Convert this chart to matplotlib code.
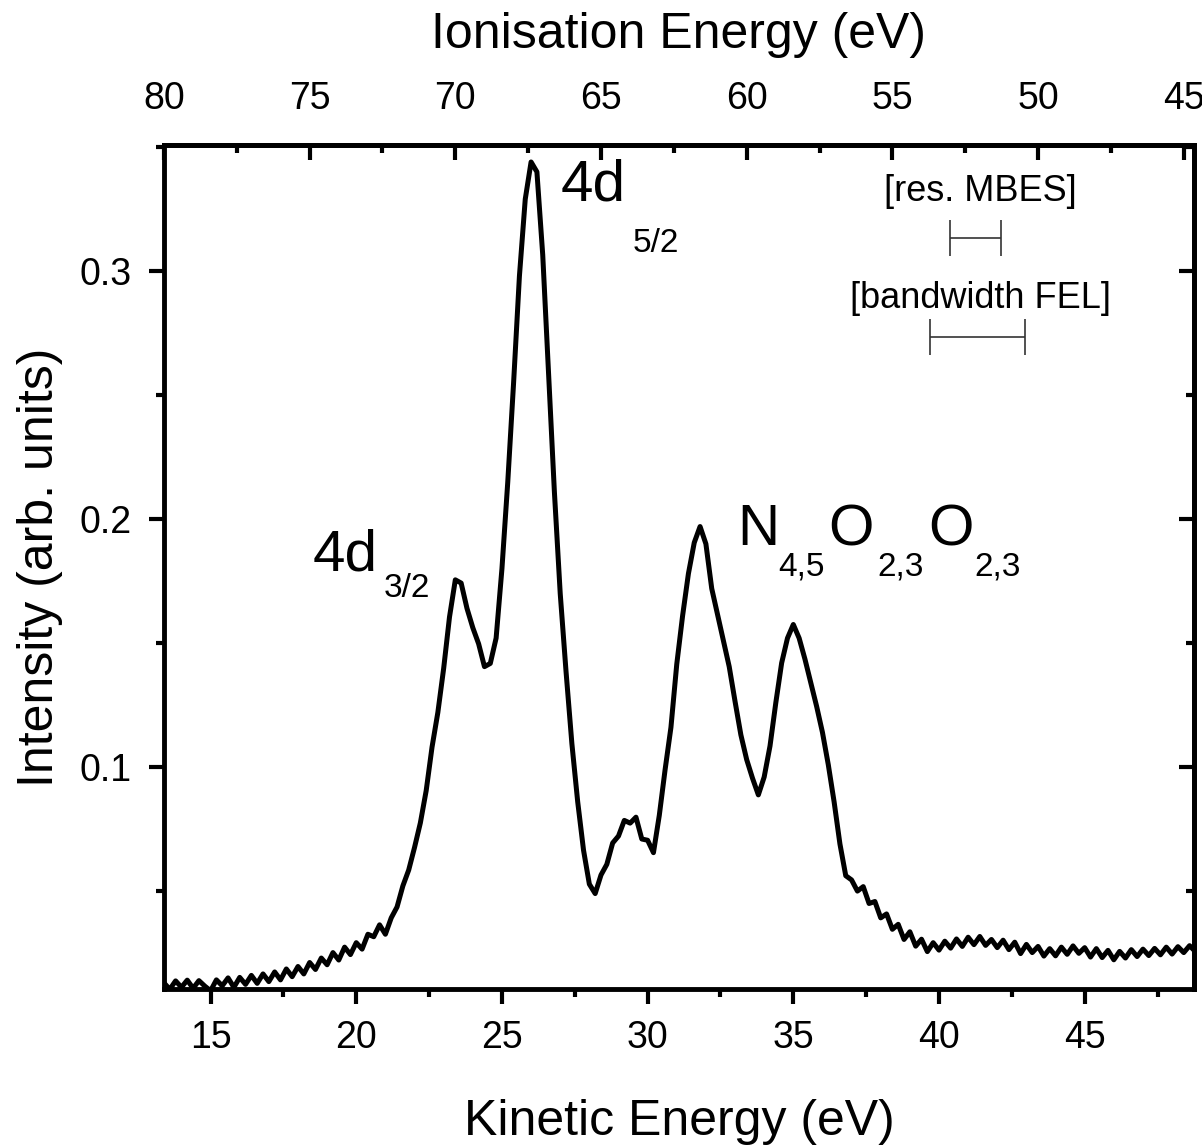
import numpy as np
import matplotlib
matplotlib.use("Agg")
import matplotlib.pyplot as plt
from matplotlib.ticker import MultipleLocator

plt.rcParams['font.family'] = ['Liberation Sans', 'DejaVu Sans']

# photon energy: ionisation energy = hv - kinetic energy
hv = 93.40

# spectrum, sampled every 0.2 eV starting at 13.4 eV kinetic energy
ke_start = 13.4
ke_step = 0.2
intensity = [
    # 13.4 - 21.0
    0.0130, 0.0104, 0.0138, 0.0112, 0.0141, 0.0108, 0.0139, 0.0117, 0.0098, 0.0142,
    0.0118, 0.0150, 0.0112, 0.0152, 0.0124, 0.0160, 0.0128, 0.0166, 0.0135, 0.0174,
    0.0142, 0.0186, 0.0155, 0.0196, 0.0166, 0.0212, 0.0184, 0.0230, 0.0203, 0.0252,
    0.0222, 0.0274, 0.0244, 0.0292, 0.0266, 0.0326, 0.0316, 0.0364, 0.0326,
    # 21.2 - 28.0
    0.0392, 0.0436, 0.0521, 0.0585, 0.0676, 0.0775, 0.0905, 0.1080, 0.1220, 0.1398,
    0.1605, 0.1755, 0.1742, 0.1640, 0.1562, 0.1497, 0.1405, 0.1418, 0.1520, 0.1800,
    0.2150, 0.2550, 0.2980, 0.3290, 0.3440, 0.3400, 0.3065, 0.2585, 0.2110, 0.1700,
    0.1385, 0.1095, 0.0860, 0.0665, 0.0528,
    # 28.2 - 30.4
    0.0490, 0.0565, 0.0608, 0.0694, 0.0722, 0.0785, 0.0774, 0.0798, 0.0710, 0.0705,
    0.0655, 0.0805,
    # 30.6 - 36.6
    0.0990, 0.1160, 0.1415, 0.1610, 0.1780, 0.1905, 0.1970, 0.1900, 0.1720, 0.1615,
    0.1510, 0.1405, 0.1265, 0.1130, 0.1030, 0.0955, 0.0888, 0.0960, 0.1085, 0.1260,
    0.1420, 0.1520, 0.1575, 0.1520, 0.1435, 0.1340, 0.1245, 0.1140, 0.1010, 0.0860,
    0.0690,
    # 36.8 - 48.8
    0.0562, 0.0545, 0.0500, 0.0518, 0.0450, 0.0458, 0.0392, 0.0408, 0.0346, 0.0366,
    0.0305, 0.0336, 0.0278, 0.0306, 0.0256, 0.0292, 0.0262, 0.0298, 0.0270, 0.0307,
    0.0277, 0.0314, 0.0284, 0.0317, 0.0281, 0.0305, 0.0272, 0.0302, 0.0264, 0.0294,
    0.0248, 0.0285, 0.0252, 0.0277, 0.0238, 0.0268, 0.0239, 0.0274, 0.0245, 0.0279,
    0.0249, 0.0272, 0.0234, 0.0268, 0.0232, 0.0261, 0.0223, 0.0257, 0.0230, 0.0264,
    0.0236, 0.0266, 0.0240, 0.0269, 0.0243, 0.0274, 0.0246, 0.0276, 0.0252, 0.0280,
    0.0256,
]
ke = ke_start + ke_step * np.arange(len(intensity))

# resolution bars (kinetic energy span) and their heights
res_mbes = (40.37, 42.12)
res_mbes_y = 0.3134
fel_bw = (39.70, 42.96)
fel_bw_y = 0.2735

fig = plt.figure(figsize=(12.02, 11.47), dpi=100)
ax = fig.add_axes([0.1364, 0.1377, 0.8569, 0.7358])

ax.plot(ke, intensity, color='black', lw=3.6, solid_joinstyle='round')

ax.set_xlim(13.40, 48.75)
ax.set_ylim(0.0105, 0.3508)

for sp in ax.spines.values():
    sp.set_linewidth(3.5)

ax.xaxis.set_major_locator(MultipleLocator(5))
ax.xaxis.set_minor_locator(MultipleLocator(2.5))
ax.yaxis.set_major_locator(MultipleLocator(0.1))
ax.yaxis.set_minor_locator(MultipleLocator(0.05))
ax.tick_params(which='major', direction='out', length=11, width=3,
               labelsize=27, pad=11)
ax.tick_params(which='minor', direction='out', length=6, width=3)
ax.tick_params(axis='y', which='major', pad=12)
ax.yaxis.set_major_formatter(plt.FuncFormatter(lambda v, p: f'{v:.1f}'))

# ionisation energy on top
top = ax.secondary_xaxis('top', functions=(lambda k: hv - k, lambda e: hv - e))
top.xaxis.set_major_locator(MultipleLocator(5))
top.xaxis.set_minor_locator(MultipleLocator(2.5))
top.tick_params(which='major', direction='in', length=11, width=3,
                labelsize=27, pad=20)
top.tick_params(which='minor', direction='in', length=6, width=3)
top.spines['top'].set_linewidth(3.5)
top.set_xlabel('Ionisation Energy (eV)', fontsize=36, labelpad=24)

right = ax.secondary_yaxis('right')
right.yaxis.set_major_locator(MultipleLocator(0.1))
right.yaxis.set_minor_locator(MultipleLocator(0.05))
right.tick_params(which='major', direction='in', length=11, width=3, labelright=False)
right.tick_params(which='minor', direction='in', length=6, width=3)
right.spines['right'].set_linewidth(3.5)

ax.set_xlabel('Kinetic Energy (eV)', fontsize=36, labelpad=31)
ax.set_ylabel('Intensity (arb. units)', fontsize=36, labelpad=12)

# peak labels
ax.text(18.50, 0.1794, '4d', fontsize=42, va='baseline')
ax.text(20.94, 0.1685, '3/2', fontsize=24, va='baseline')
ax.text(27.01, 0.3286, '4d', fontsize=42, va='baseline')
ax.text(29.48, 0.3077, '5/2', fontsize=24, va='baseline')
ax.text(33.07, 0.1895, 'N', fontsize=42, va='baseline')
ax.text(34.48, 0.1774, '4,5', fontsize=24, va='baseline')
ax.text(36.20, 0.1895, 'O', fontsize=42, va='baseline')
ax.text(37.88, 0.1774, '2,3', fontsize=24, va='baseline')
ax.text(39.62, 0.1895, 'O', fontsize=42, va='baseline')
ax.text(41.23, 0.1774, '2,3', fontsize=24, va='baseline')

# resolution / bandwidth indicators
ax.text(41.41, 0.3319, '[res. MBES]', fontsize=26, ha='center', va='center')
ax.errorbar([(res_mbes[0] + res_mbes[1]) / 2], [res_mbes_y],
            xerr=[(res_mbes[1] - res_mbes[0]) / 2], fmt='none',
            ecolor='#333333', elinewidth=1.2, capsize=13, capthick=1.2)
ax.text(41.44, 0.2891, '[bandwidth FEL]', fontsize=26, ha='center', va='center')
ax.errorbar([(fel_bw[0] + fel_bw[1]) / 2], [fel_bw_y],
            xerr=[(fel_bw[1] - fel_bw[0]) / 2], fmt='none',
            ecolor='#333333', elinewidth=1.2, capsize=13, capthick=1.2)

fig.savefig('out.png', dpi=100)
